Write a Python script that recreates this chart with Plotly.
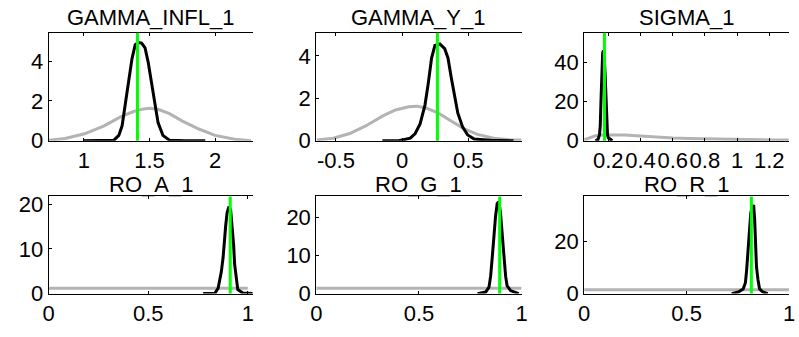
import plotly.graph_objects as go

titles = ["GAMMA_INFL_1", "GAMMA_Y_1", "SIGMA_1", "RO_A_1", "RO_G_1", "RO_R_1"]

# ---- prior densities (gray) ----
prior_x_1 = [0.731, 0.856, 1.005, 1.154, 1.279, 1.378, 1.453, 1.503, 1.565, 1.652, 1.751, 1.876, 2.0, 2.149, 2.274]
prior_y_1 = [0.03, 0.11, 0.35, 0.75, 1.20, 1.47, 1.60, 1.63, 1.58, 1.36, 0.99, 0.59, 0.27, 0.07, 0.0]
prior_x_2 = [-0.644, -0.520, -0.396, -0.272, -0.149, -0.050, 0.050, 0.111, 0.186, 0.272, 0.371, 0.470, 0.570, 0.693, 0.817, 0.904]
prior_y_2 = [0.04, 0.12, 0.34, 0.71, 1.16, 1.45, 1.60, 1.63, 1.53, 1.31, 0.93, 0.56, 0.30, 0.12, 0.04, 0.03]
prior_x_3 = [0.05, 0.08, 0.12, 0.16, 0.2, 0.25, 0.3, 0.35, 0.4, 0.5, 0.6, 0.7, 0.8, 0.9, 1.0, 1.1, 1.2, 1.32]
prior_y_3 = [0.5, 1.5, 2.5, 2.9, 3.0, 3.0, 2.9, 2.7, 2.4, 1.9, 1.4, 1.1, 0.9, 0.7, 0.6, 0.5, 0.4, 0.35]
prior_x_4 = [0.0, 1.0]
prior_y_4 = [1.2, 1.2]
prior_x_5 = [0.0, 1.0]
prior_y_5 = [1.4, 1.4]
prior_x_6 = [0.0, 1.0]
prior_y_6 = [1.45, 1.45]

# ---- posterior densities (black) ----
post_x_1 = [0.993, 1.104, 1.229, 1.266, 1.291, 1.316, 1.341, 1.366, 1.391, 1.416, 1.440, 1.466, 1.490, 1.515, 1.540, 1.565, 1.602, 1.652, 1.776, 1.925]
post_y_1 = [0.0, 0.0, 0.03, 0.27, 0.75, 1.87, 2.99, 4.11, 4.83, 4.94, 4.91, 4.67, 3.95, 2.99, 1.87, 0.91, 0.27, 0.03, 0.0, 0.0]
post_x_2 = [-0.149, -0.025, 0.062, 0.099, 0.136, 0.173, 0.198, 0.223, 0.248, 0.285, 0.322, 0.347, 0.371, 0.396, 0.421, 0.458, 0.496, 0.545, 0.669, 0.842]
post_y_2 = [0.0, 0.0, 0.12, 0.34, 0.79, 1.68, 2.71, 3.90, 4.49, 4.56, 4.34, 3.90, 3.01, 2.12, 1.31, 0.64, 0.27, 0.08, 0.02, 0.0]
post_x_3 = [0.120, 0.135, 0.145, 0.150, 0.155, 0.160, 0.165, 0.170, 0.175, 0.180, 0.185, 0.190, 0.195, 0.200, 0.210, 0.225]
post_y_3 = [0.0, 0.5, 3.0, 8.0, 22.0, 38.0, 45.0, 46.0, 42.0, 34.0, 22.0, 8.0, 3.0, 1.5, 0.8, 0.0]
post_x_4 = [0.776, 0.834, 0.851, 0.859, 0.867, 0.876, 0.881, 0.889, 0.896, 0.905, 0.914, 0.922, 0.929, 0.934, 0.942, 0.950, 0.975, 1.025]
post_y_4 = [0.0, 0.0, 1.2, 3.0, 4.8, 8.0, 11.6, 15.1, 18.0, 19.4, 18.7, 15.1, 10.9, 6.6, 3.0, 0.9, 0.15, 0.0]
post_x_5 = [0.785, 0.825, 0.841, 0.849, 0.857, 0.865, 0.873, 0.881, 0.889, 0.897, 0.905, 0.913, 0.922, 0.929, 0.946, 0.986]
post_y_5 = [0.0, 0.4, 1.7, 4.6, 9.6, 15.4, 20.4, 23.75, 24.2, 21.25, 15.4, 9.6, 4.6, 2.1, 0.8, 0.0]
post_x_6 = [0.720, 0.752, 0.776, 0.787, 0.793, 0.800, 0.806, 0.813, 0.821, 0.827, 0.832, 0.837, 0.841, 0.848, 0.856, 0.872, 0.896]
post_y_6 = [0.0, 0.6, 1.8, 4.2, 9.1, 16.4, 26.1, 30.9, 33.3, 33.9, 28.5, 16.4, 10.3, 5.5, 1.8, 0.6, 0.0]

# ---- posterior modes (green) ----
modes = [1.408, 0.267, 0.176, 0.912, 0.893, 0.816]

# ---- axis ticks ----
xtick_vals = [[1, 1.5, 2], [-0.5, 0, 0.5], [0.2, 0.4, 0.6, 0.8, 1.0, 1.2], [0, 0.5, 1], [0, 0.5, 1], [0, 0.5, 1]]
xtick_text = [["1", "1.5", "2"], ["-0.5", "0", "0.5"], ["0.2", "0.4", "0.6", "0.8", "1", "1.2"],
              ["0", "0.5", "1"], ["0", "0.5", "1"], ["0", "0.5", "1"]]
ytick_vals = [[0, 2, 4], [0, 2, 4], [0, 20, 40], [0, 10, 20], [0, 10, 20], [0, 20]]
x_ranges = [[0.731, 2.287], [-0.649, 0.904], [0.05, 1.323], [0, 1.025], [0, 1.0], [0, 1.0]]
y_ranges = [[0, 5.42], [0, 5.08], [0, 55], [0, 21.7], [0, 25.6], [0, 37.2]]

priors = [(prior_x_1, prior_y_1), (prior_x_2, prior_y_2), (prior_x_3, prior_y_3),
          (prior_x_4, prior_y_4), (prior_x_5, prior_y_5), (prior_x_6, prior_y_6)]
posts = [(post_x_1, post_y_1), (post_x_2, post_y_2), (post_x_3, post_y_3),
         (post_x_4, post_y_4), (post_x_5, post_y_5), (post_x_6, post_y_6)]

W, H = 799, 337
col_dom = [[43.3 / W, 250.5 / W], [315.0 / W, 523.5 / W], [587.0 / W, 795.0 / W]]
row_dom = [[1 - 144.0 / H, 1 - 30.5 / H], [1 - 305.0 / H, 1 - 202.7 / H]]
title_y = [1 - 14.0 / H, 1 - 190.5 / H]

FONT = "Liberation Sans, Arial, sans-serif"
TICK = 22
TITLE = 22
fig = go.Figure()
layout = dict(
    width=W, height=H, margin=dict(l=0, r=0, t=0, b=0),
    paper_bgcolor="white", plot_bgcolor="white", showlegend=False,
    font=dict(family=FONT, size=TICK, color="black"),
)
annotations = []
for i in range(6):
    r, c = divmod(i, 3)
    n = i + 1
    xa = "x" if n == 1 else f"x{n}"
    ya = "y" if n == 1 else f"y{n}"
    px, py = priors[i]
    qx, qy = posts[i]
    fig.add_trace(go.Scatter(x=px, y=py, mode="lines", line=dict(color="#b3b3b3", width=3),
                             xaxis=xa, yaxis=ya, hoverinfo="skip"))
    fig.add_trace(go.Scatter(x=qx, y=qy, mode="lines", line=dict(color="black", width=3),
                             xaxis=xa, yaxis=ya, hoverinfo="skip"))
    fig.add_shape(type="line", x0=modes[i], x1=modes[i], y0=0, y1=1,
                  xref=xa, yref=f"{ya} domain", line=dict(color="#00ff00", width=3))
    layout[f"xaxis{n}"] = dict(
        domain=col_dom[c], anchor=ya, range=x_ranges[i], tickmode="array",
        tickvals=xtick_vals[i], ticktext=xtick_text[i], tickangle=0,
        showline=True, linecolor="black", linewidth=1, mirror="ticks",
        ticks="inside", ticklen=3, tickcolor="black", showgrid=False, zeroline=False,
        tickfont=dict(size=TICK, family=FONT, color="black"),
    )
    layout[f"yaxis{n}"] = dict(
        domain=row_dom[r], anchor=xa, range=y_ranges[i], tickmode="array",
        tickvals=ytick_vals[i], showline=True, linecolor="black", linewidth=1,
        mirror=False, ticks="inside", ticklen=3, tickcolor="black",
        showgrid=False, zeroline=False,
        tickfont=dict(size=TICK, family=FONT, color="black"),
    )
    layout[f"yaxis{n + 6}"] = dict(
        overlaying=ya, anchor=xa, side="right", range=y_ranges[i], tickmode="array",
        tickvals=ytick_vals[i], showline=False, ticks="inside", ticklen=3,
        tickcolor="black", showticklabels=False, showgrid=False, zeroline=False,
    )
    annotations.append(dict(
        text=titles[i], x=(col_dom[c][0] + col_dom[c][1]) / 2, y=title_y[r],
        xref="paper", yref="paper", xanchor="center", yanchor="middle",
        showarrow=False, font=dict(size=TITLE, family=FONT, color="black"),
    ))
layout["annotations"] = annotations
fig.update_layout(**layout)
fig.write_html("out.html")
